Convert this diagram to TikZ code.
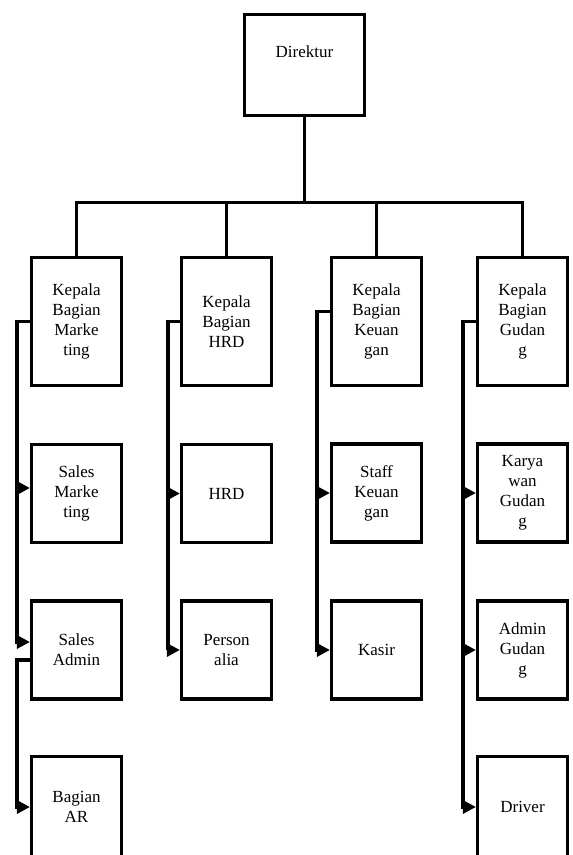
\documentclass[tikz,border=0pt]{standalone}
\usepackage{fontspec}
\setmainfont{Liberation Serif}
\usetikzlibrary{arrows.meta}
\tikzset{
  box/.style={draw=black, line width=3.2pt, inner sep=0pt, align=center,
    font=\fontsize{17}{20}\selectfont, minimum width=90pt},
  lvtwo/.style={box, minimum height=128pt},
  lvrow/.style={box, minimum height=98pt},
  conn/.style={draw=black, line width=3.2pt},
  arr/.style={conn, -{Triangle[length=13pt,width=13pt]}},
}
\begin{document}
\begin{tikzpicture}[x=1pt,y=1pt]
\useasboundingbox (0,0) rectangle (573,-855);
% top
\node[box, minimum width=120pt, minimum height=101pt, text height=11.6pt, text depth=27.6pt] (dir) at (304.5,-65) {Direktur};
% level 2
\node[lvtwo] (kbm) at (76.5,-321.5) {Kepala\\Bagian\\Marke\\ting};
\node[lvtwo] (kbh) at (226.5,-321.5) {Kepala\\Bagian\\HRD};
\node[lvtwo] (kbk) at (376.5,-321.5) {Kepala\\Bagian\\Keuan\\gan};
\node[lvtwo] (kbg) at (522.5,-321.5) {Kepala\\Bagian\\Gudan\\g};
% level 3
\node[lvrow] (sm) at (76.5,-493.5) {Sales\\Marke\\ting};
\node[lvrow] (hrd) at (226.5,-493.5) {HRD};
\node[lvrow] (sk) at (376.5,-493) {Staff\\Keuan\\gan};
\node[lvrow] (kg) at (522.5,-493) {Karya\\wan\\Gudan\\g};
% level 4
\node[lvrow] (sa) at (76.5,-650) {Sales\\Admin};
\node[lvrow] (pa) at (226.5,-650) {Person\\alia};
\node[lvrow] (ks) at (376.5,-650) {Kasir};
\node[lvrow] (ag) at (522.5,-650) {Admin\\Gudan\\g};
% level 5
\node[box, minimum height=101pt] (ar) at (76.5,-807) {Bagian\\AR};
\node[box, minimum height=101pt] (dr) at (522.5,-807) {Driver};
% bus
\draw[conn] (dir.south) -- ++(0,-85) coordinate (bus);
\draw[conn] (kbm.north) |- (bus) -| (kbg.north);
\draw[conn] (kbh.north) -- (kbh.north |- bus);
\draw[conn] (kbk.north) -- (kbk.north |- bus);
% marketing
\draw[arr] (kbm.west) -| ([xshift=-13pt,yshift=8pt]sa.west) -- ([yshift=8pt]sa.west);
\draw[arr] ([xshift=-13pt,yshift=5.5pt]sm.west) -- ([yshift=5.5pt]sm.west);
\draw[arr] ([yshift=-10pt]sa.west) -| ([xshift=-13pt]ar.west) -- (ar.west);
% hrd
\draw[arr] (kbh.west) -| ([xshift=-12pt]pa.west) -- (pa.west);
\draw[arr] ([xshift=-12pt]hrd.west) -- (hrd.west);
% keuangan
\draw[arr] ([yshift=10pt]kbk.west) -| ([xshift=-13pt]ks.west) -- (ks.west);
\draw[arr] ([xshift=-13pt]sk.west) -- (sk.west);
% gudang
\draw[arr] (kbg.west) -| ([xshift=-13pt]dr.west) -- (dr.west);
\draw[arr] ([xshift=-13pt]kg.west) -- (kg.west);
\draw[arr] ([xshift=-13pt]ag.west) -- (ag.west);
\end{tikzpicture}
\end{document}
